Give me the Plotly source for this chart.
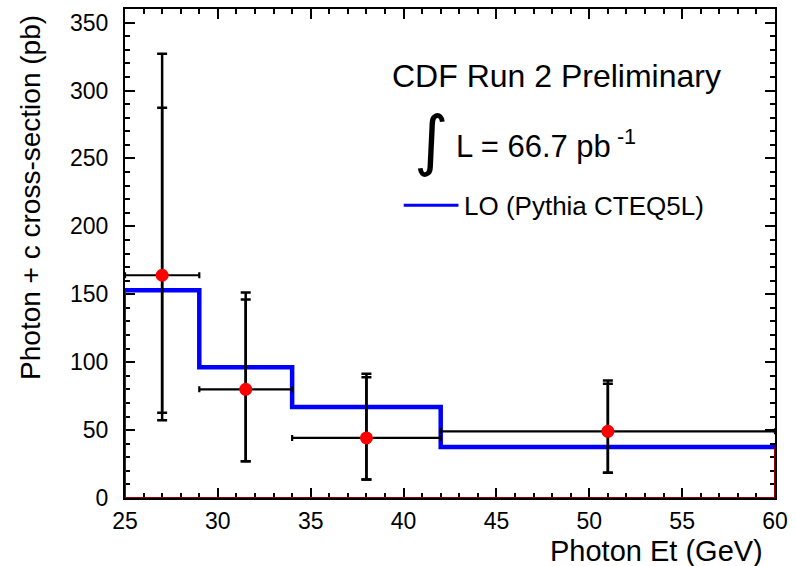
import plotly.graph_objects as go
import numpy as np

# Measured photon + c cross-section per Et bin
bin_edges = [25, 29, 34, 42, 60]
x_centers = [27, 31.5, 38, 51]
sigma = [164, 80, 44.2, 49.1]
stat_upper = [287.3, 146.1, 88.9, 84.1]
stat_lower = [62.8, 27.1, 13.7, 18.5]
tot_upper = [327, 151.2, 91.4, 86.5]
tot_lower = [57.2, 27.1, 13.7, 18.5]

# LO prediction (Pythia CTEQ5L), one value per bin
lo_pred = [153, 96.2, 67, 37.6]

FONT = "Liberation Sans, Arial, Helvetica, sans-serif"
DARK_RED = "#990000"

xc = np.array(x_centers)
y = np.array(sigma)
lo_edges = np.array(bin_edges[:-1])
hi_edges = np.array(bin_edges[1:])

fig = go.Figure()

# LO histogram as a step line
fig.add_trace(go.Scatter(
    x=bin_edges,
    y=lo_pred + [lo_pred[-1]],
    mode="lines",
    line=dict(color="#0000ff", width=4.5, shape="hv"),
    showlegend=False,
    hoverinfo="skip",
))

# Total uncertainty with x bin widths
fig.add_trace(go.Scatter(
    x=xc, y=y, mode="markers",
    marker=dict(size=1, color="rgba(0,0,0,0)"),
    error_y=dict(type="data", symmetric=False,
                 array=np.array(tot_upper) - y,
                 arrayminus=y - np.array(tot_lower),
                 color="black", thickness=2.5, width=5),
    error_x=dict(type="data", symmetric=False,
                 array=hi_edges - xc, arrayminus=xc - lo_edges,
                 color="black", thickness=2.2, width=3),
    showlegend=False, hoverinfo="skip",
))

# Statistical uncertainty and data points
fig.add_trace(go.Scatter(
    x=xc, y=y, mode="markers",
    marker=dict(size=13, color="#ff0000", line=dict(width=0)),
    error_y=dict(type="data", symmetric=False,
                 array=np.array(stat_upper) - y,
                 arrayminus=y - np.array(stat_lower),
                 color="black", thickness=2.5, width=5),
    showlegend=False, hoverinfo="skip",
))

# Histogram outline edges in dark red (left/right edges and baseline)
shapes = [
    dict(type="line", xref="x", yref="y", x0=bin_edges[0], x1=bin_edges[0],
         y0=0, y1=lo_pred[0], line=dict(color=DARK_RED, width=2), layer="above"),
    dict(type="line", xref="x", yref="y", x0=bin_edges[-1], x1=bin_edges[-1],
         y0=0, y1=lo_pred[-1], line=dict(color=DARK_RED, width=2), layer="above"),
    dict(type="line", xref="x", yref="y", x0=bin_edges[0], x1=bin_edges[-1],
         y0=0, y1=0, line=dict(color=DARK_RED, width=2), layer="above"),
]

W, H = 795, 566
L, R, T, B = 125, 17, 7, 68
pw, ph = W - L - R, H - T - B


def px(xp):
    return (xp - L) / pw


def py(yp):
    return (H - B - yp) / ph


# Legend sample line
shapes.append(dict(type="line", xref="paper", yref="paper",
                   x0=px(405), x1=px(460), y0=py(204), y1=py(204),
                   line=dict(color="#0000ff", width=3)))

annotations = [
    dict(text="Photon + c cross-section (pb)", textangle=-90,
         xref="paper", yref="paper", x=px(30), y=py(11),
         xanchor="center", yanchor="top", showarrow=False,
         font=dict(family=FONT, size=28, color="black")),
    dict(text="Photon Et (GeV)", xref="paper", yref="paper",
         x=px(768), y=py(551), xanchor="right", yanchor="middle",
         showarrow=False, font=dict(family=FONT, size=29, color="black")),
    dict(text="CDF Run 2 Preliminary", xref="paper", yref="paper",
         x=px(558), y=py(74), xanchor="center", yanchor="middle",
         showarrow=False, font=dict(family=FONT, size=32, color="black")),
    dict(text="\u222b", xref="paper", yref="paper",
         x=px(432), y=py(139), xanchor="center", yanchor="middle",
         showarrow=False, font=dict(family="DejaVu Sans, sans-serif",
                                    size=66, color="black")),
    dict(text="L = 66.7 pb<sup> -1</sup>", xref="paper", yref="paper",
         x=px(456), y=py(143), xanchor="left", yanchor="middle",
         showarrow=False, font=dict(family=FONT, size=31, color="black")),
    dict(text="LO (Pythia CTEQ5L)", xref="paper", yref="paper",
         x=px(464), y=py(205), xanchor="left", yanchor="middle",
         showarrow=False, font=dict(family=FONT, size=26, color="black")),
]

axis_common = dict(
    showline=True, linecolor="black", linewidth=2, mirror="ticks",
    ticks="inside", ticklen=10, tickwidth=1.5, tickcolor="black",
    showgrid=False, zeroline=False,
    tickfont=dict(family=FONT, size=23, color="black"),
)

fig.update_layout(
    width=W, height=H,
    margin=dict(l=L, r=R, t=T, b=B),
    paper_bgcolor="white", plot_bgcolor="white",
    xaxis=dict(range=[25, 60], dtick=5, tick0=25,
               minor=dict(dtick=1, ticks="inside", ticklen=5, tickwidth=1.5,
                          tickcolor="black", showgrid=False),
               ticklabelstandoff=1,
               **axis_common),
    yaxis=dict(range=[0, 360], dtick=50, tick0=0,
               minor=dict(dtick=10, ticks="inside", ticklen=5, tickwidth=1.5,
                          tickcolor="black", showgrid=False),
               ticklabelstandoff=10,
               **axis_common),
    shapes=shapes,
    annotations=annotations,
    showlegend=False,
)

fig.write_html("out.html")
